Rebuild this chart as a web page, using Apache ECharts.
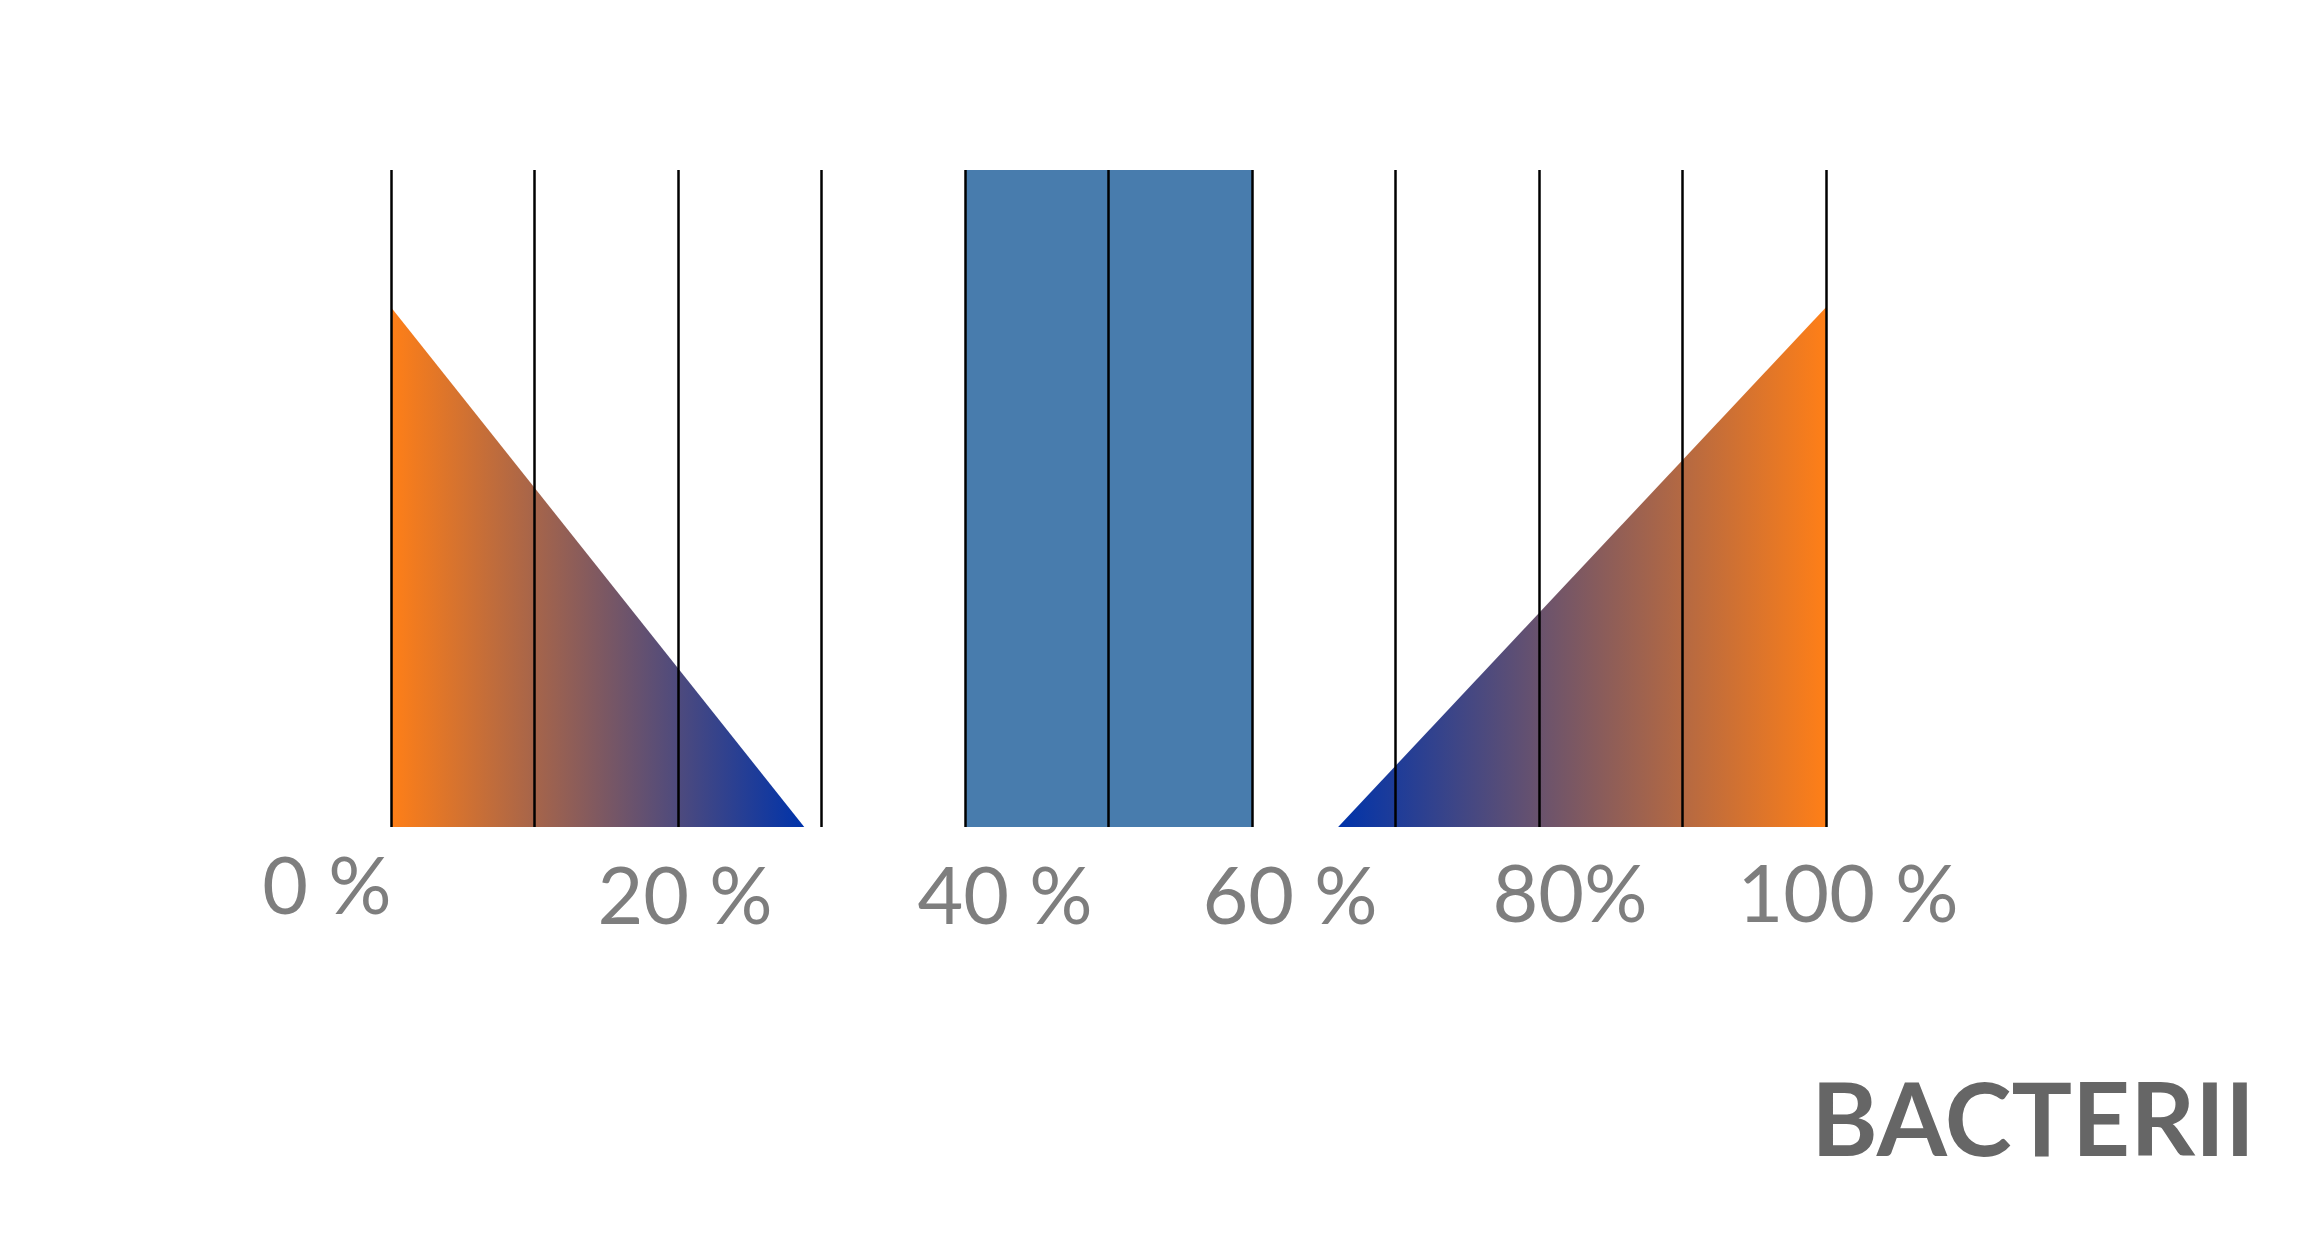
<!DOCTYPE html>
<html>
<head>
<meta charset="utf-8">
<style>html,body{margin:0;padding:0;background:#fff;}#c{width:2318px;height:1248px;}</style>
<script src="https://cdn.jsdelivr.net/npm/echarts@6/dist/echarts.min.js"></script>
</head>
<body>
<div id="c"></div>
<script>
// ---- data ----
const tickValues = [0, 20, 40, 60, 80, 100];
const tickLabels = ['0 %', '20 %', '40 %', '60 %', '80%', '100 %'];
const leftWedge = [[0, 79.1], [28.8, 0]];
const middleBlock = [[40, 100], [60, 100]];
const rightWedge = [[66, 0], [100, 79.1]];
const chartTitle = 'BACTERII';

// ---- styles ----
const labelOffsets = [[-64, 62], [7, 72], [40, 72], [38, 72], [31, 70], [22, 70]];
const ORANGE = '#ff7f17', BLUE = '#0033aa';

const chart = echarts.init(document.getElementById('c'), null, {renderer: 'canvas'});
const grad = (a, b) => new echarts.graphic.LinearGradient(0, 0, 1, 0, [{offset: 0, color: a}, {offset: 1, color: b}]);

chart.setOption({
  animation: false,
  backgroundColor: '#fff',
  title: {
    text: chartTitle, right: 63, top: 1073, padding: 0,
    textStyle: {fontFamily: 'Lato', fontWeight: 'bold', fontSize: 101, color: '#666666'}
  },
  grid: {left: 391, right: 492, top: 170, bottom: 421},
  xAxis: {
    type: 'value', min: 0, max: 100, interval: 10, z: 10,
    axisLine: {show: false}, axisTick: {show: false}, axisLabel: {show: false},
    splitLine: {show: true, lineStyle: {color: '#000', width: 2.5}}
  },
  yAxis: {
    type: 'value', min: 0, max: 100, show: false,
    splitLine: {show: false}
  },
  series: [
    {type: 'line', data: leftWedge, symbol: 'none', lineStyle: {width: 0},
     areaStyle: {opacity: 1, color: grad(ORANGE, BLUE)}, silent: true},
    {type: 'line', data: middleBlock, symbol: 'none', lineStyle: {width: 0},
     areaStyle: {opacity: 1, color: '#487cad'}, silent: true},
    {type: 'line', data: rightWedge, symbol: 'none', lineStyle: {width: 0},
     areaStyle: {opacity: 1, color: grad(BLUE, ORANGE)}, silent: true},
    {type: 'scatter', symbolSize: 0, silent: true, clip: false, z: 20,
     data: tickValues.map((v, i) => ({
       value: [v, 0],
       label: {show: true, position: 'inside', offset: labelOffsets[i],
               formatter: tickLabels[i], fontFamily: 'Lato', fontSize: 79,
               color: '#5e5e5e', align: 'center', verticalAlign: 'middle'}
     }))}
  ]
});
</script>
</body>
</html>
